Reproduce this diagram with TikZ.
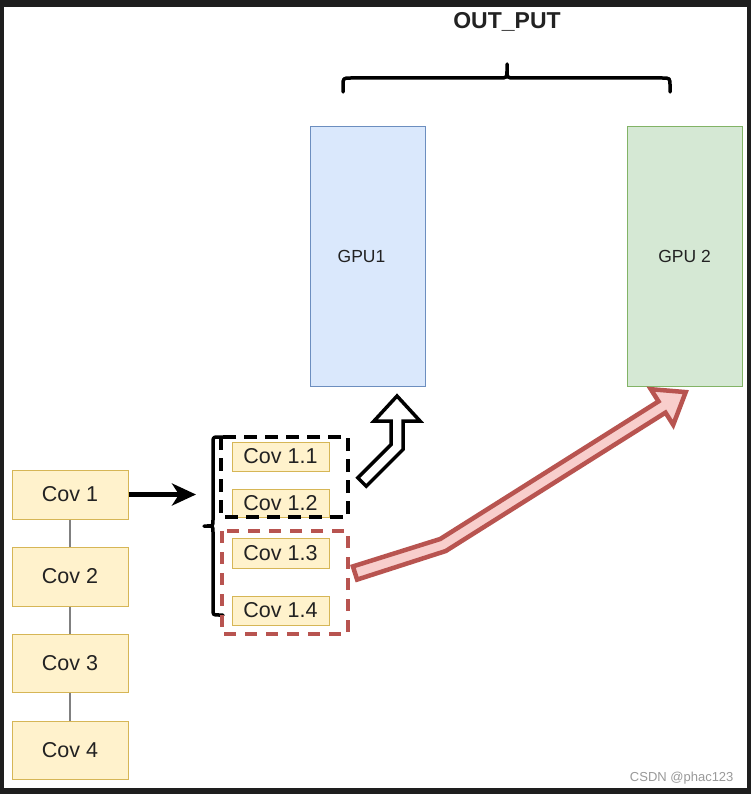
\documentclass[tikz,border=0pt]{standalone}
\usepackage{fontspec}
\setmainfont{Liberation Sans}
\usetikzlibrary{arrows.meta}
\definecolor{frame}{HTML}{1E1E1E}
\definecolor{yfill}{HTML}{FFF2CC}
\definecolor{ydraw}{HTML}{D6B656}
\definecolor{bfill}{HTML}{DAE8FC}
\definecolor{bdraw}{HTML}{6C8EBF}
\definecolor{gfill}{HTML}{D5E8D4}
\definecolor{gdraw}{HTML}{82B366}
\definecolor{rfill}{HTML}{F8CECC}
\definecolor{rdraw}{HTML}{B85450}
\definecolor{txt}{HTML}{222222}
\tikzset{
  covbox/.style={draw=ydraw, fill=yfill, line width=1pt, inner sep=0pt, text=txt, font=\fontsize{21.5}{24}\selectfont},
  gpubox/.style={line width=1pt, inner sep=0pt, minimum width=115pt, minimum height=259pt, text=txt, font=\fontsize{17.5}{20}\selectfont},
  link/.style={draw=gray, line width=1.2pt},
  bracestyle/.style={draw=black, line width=3.5pt, line cap=round, line join=round},
}
\begin{document}
\begin{tikzpicture}[x=1pt, y=-1pt]
\useasboundingbox (0,0) rectangle (751,794);
\fill[frame] (0,0) rectangle (751,794);
\fill[white] (4,7) rectangle (747,788);

% title and top brace
\node[font=\bfseries\fontsize{23}{26}\selectfont, text=txt] (title) at (507,22) {OUT\_PUT};
\draw[bracestyle] (343,92) -- (343,86) .. controls (343,78) .. (351,78) -- (499,78) .. controls (507,78) .. (507,70) -- (507,64)
  -- (507,70) .. controls (507,78) .. (515,78) -- (662,78) .. controls (670,78) .. (670,86) -- (670,92);

% GPUs
\node[gpubox, draw=bdraw, fill=bfill] (gpu1) at (367.5,256.5) {GPU1\hspace*{12pt}};
\node[gpubox, draw=gdraw, fill=gfill] (gpu2) at (684.5,256.5) {GPU 2};

% Cov column
\node[covbox, minimum width=116pt, minimum height=49pt] (c1) at (70,494.5) {Cov 1};
\node[covbox, minimum width=116pt, minimum height=59pt] (c2) at (70,576.5) {Cov 2};
\node[covbox, minimum width=116pt, minimum height=58pt] (c3) at (70,663) {Cov 3};
\node[covbox, minimum width=116pt, minimum height=58pt] (c4) at (70,750) {Cov 4};
\draw[link] (c1) -- (c2);
\draw[link] (c2) -- (c3);
\draw[link] (c3) -- (c4);

% sub boxes
\node[covbox, minimum width=97pt, minimum height=29pt] (c11) at (280.5,456.5) {Cov 1.1};
\node[covbox, minimum width=97pt, minimum height=28pt] (c12) at (280.5,503.5) {Cov 1.2};
\node[covbox, minimum width=97pt, minimum height=30pt] (c13) at (280.5,553) {Cov 1.3};
\node[covbox, minimum width=97pt, minimum height=29pt] (c14) at (280.5,610.5) {Cov 1.4};

% arrow Cov1 -> split
\coordinate (split) at (196,494.5);
\draw[line width=4.5pt, -{Stealth[length=24pt,width=22pt,inset=7pt]}] (c1.east) -- (split);

% left brace
\draw[bracestyle] (223,437) -- (219,437) .. controls (213,437) .. (213,443) -- (213,520) .. controls (213,526) .. (207,526) -- (204,526)
  -- (207,526) .. controls (213,526) .. (213,532) -- (213,609) .. controls (213,615) .. (219,615) -- (223,615);

% dashed groups
\draw[black, line width=4.5pt, dash pattern=on 13pt off 8pt] (221,437) rectangle (348,517);
\draw[rdraw, line width=4.5pt, dash pattern=on 12pt off 9pt] (222,531) rectangle (348,634);

% black outlined bent arrow to GPU1
\draw[black, fill=white, line width=3.5pt, line join=miter]
  (366.24,486.24) -- (403,449.48) -- (403,421) -- (420,421) -- (397,396) -- (374,421) -- (391,421) -- (391,444.52) -- (357.76,477.76) -- cycle;

% red bent arrow to GPU2
\draw[rdraw, fill=rfill, line width=4.5pt, line join=miter]
  (357.1,579.6) -- (445.8,551.0) -- (665.5,412.6) -- (673.2,424.8) -- (685.7,392.1) -- (650.8,389.2) -- (658.5,401.4) -- (440.2,539.0) -- (352.9,566.4) -- cycle;

% watermark
\node[anchor=east, text=gray!80, font=\fontsize{13}{15}\selectfont] (wm) at (737,778) {CSDN @phac123};
\end{tikzpicture}
\end{document}
